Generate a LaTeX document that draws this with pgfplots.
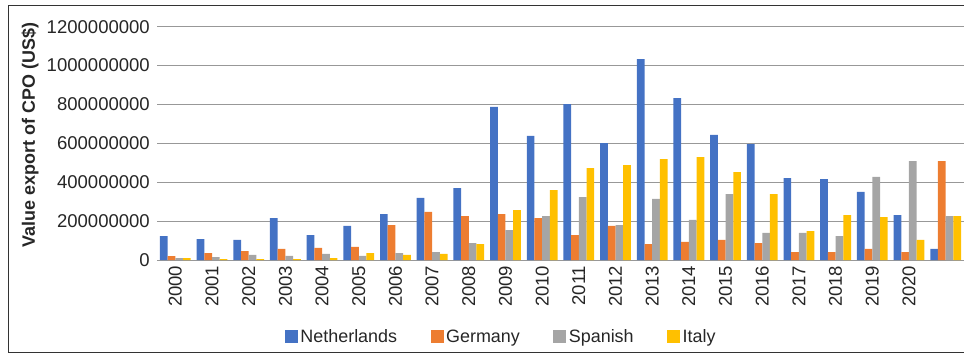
\documentclass[border=0pt]{standalone}
\usepackage{pgfplots}
\pgfplotsset{compat=1.18}
\usepackage{fontspec}
\setmainfont{Liberation Sans}

\definecolor{cNL}{HTML}{4472C4}
\definecolor{cDE}{HTML}{ED7D31}
\definecolor{cES}{HTML}{A5A5A5}
\definecolor{cIT}{HTML}{FFC000}
\definecolor{gridgray}{HTML}{989898}

% export value of CPO (US$) per year; the 2021 group carries no year label
\begin{document}
\begin{tikzpicture}
\begin{axis}[
  scale only axis,
  width=807bp, height=233.3bp,
  at={(157bp,98bp)}, anchor=south west,
  ybar=0pt, bar width=7.7bp,
  xmin=1999.5, xmax=2021.5,
  ymin=0, ymax=1200000000,
  scaled y ticks=false,
  xtick={2000,...,2020},
  ytick={0,200000000,400000000,600000000,800000000,1000000000,1200000000},
  /pgf/number format/.cd, fixed, 1000 sep={}, assume math mode=true, /pgfplots/.cd,
  major tick length=0pt,
  axis x line*=bottom, axis y line*=left,
  x axis line style={draw=gridgray, line width=1bp, -},
  y axis line style={draw=none},
  ymajorgrids, major grid style={draw=gridgray, line width=1bp},
  xticklabel style={rotate=90, anchor=east, inner sep=0pt,
    font=\fontsize{18.6}{21}\selectfont, text=black!85},
  xticklabel shift=5.5bp,
  yticklabel style={anchor=east, inner sep=0pt,
    font=\fontsize{18.6}{21}\selectfont, text=black!85},
  yticklabel shift=7bp,
  ylabel={Value export of CPO (US\$)},
  every axis y label/.style={at={(axis description cs:-0.1574,0.536)}, rotate=90, anchor=center,
    font=\fontsize{18}{21}\selectfont\bfseries, text=black!85},
  legend columns=4,
  legend image code/.code={\fill[#1] (0bp,-6.5bp) rectangle (13bp,6.5bp);},
  legend style={draw=none, fill=none, at={(axis description cs:0.4269,-0.3287)}, anchor=center,
    font=\fontsize{18}{21}\selectfont, text=black!85,
    /tikz/every even column/.append style={column sep=31bp},
    /tikz/every odd column/.append style={column sep=0bp},
    nodes={inner sep=2.5bp}},
  legend cell align=left,
  clip=false,
]
\addplot[draw=none, fill=cNL] coordinates {
  (2000,123000000) (2001,108000000) (2002,103000000) (2003,216000000) (2004,128000000)
  (2005,175000000) (2006,236000000) (2007,319000000) (2008,370000000) (2009,787000000)
  (2010,638000000) (2011,802000000) (2012,601000000) (2013,1033000000) (2014,833000000)
  (2015,643000000) (2016,596000000) (2017,421000000) (2018,416000000) (2019,350000000)
  (2020,231000000) (2021,57000000)};
\addplot[draw=none, fill=cDE] coordinates {
  (2000,20000000) (2001,36000000) (2002,46000000) (2003,57000000) (2004,62000000)
  (2005,67000000) (2006,180000000) (2007,247000000) (2008,226000000) (2009,236000000)
  (2010,216000000) (2011,128000000) (2012,175000000) (2013,82000000) (2014,93000000)
  (2015,103000000) (2016,87000000) (2017,41000000) (2018,41000000) (2019,57000000)
  (2020,41000000) (2021,509000000)};
\addplot[draw=none, fill=cES] coordinates {
  (2000,10000000) (2001,15000000) (2002,26000000) (2003,21000000) (2004,31000000)
  (2005,21000000) (2006,36000000) (2007,41000000) (2008,87000000) (2009,154000000)
  (2010,226000000) (2011,324000000) (2012,180000000) (2013,314000000) (2014,206000000)
  (2015,339000000) (2016,139000000) (2017,139000000) (2018,123000000) (2019,427000000)
  (2020,509000000) (2021,226000000)};
\addplot[draw=none, fill=cIT] coordinates {
  (2000,10000000) (2001,5000000) (2002,5000000) (2003,5000000) (2004,10000000)
  (2005,36000000) (2006,26000000) (2007,31000000) (2008,82000000) (2009,257000000)
  (2010,360000000) (2011,473000000) (2012,488000000) (2013,519000000) (2014,529000000)
  (2015,452000000) (2016,339000000) (2017,149000000) (2018,231000000) (2019,221000000)
  (2020,103000000) (2021,226000000)};
\legend{Netherlands,Germany,Spanish,Italy}
\end{axis}
% chart frame, open on the right
\draw[black!80, line width=1bp] (980bp,5.5bp) -- (8.5bp,5.5bp) -- (8.5bp,352.5bp) -- (980bp,352.5bp);
\pgfresetboundingbox
\useasboundingbox (0,0) rectangle (964bp,358bp);
\end{tikzpicture}
\end{document}
